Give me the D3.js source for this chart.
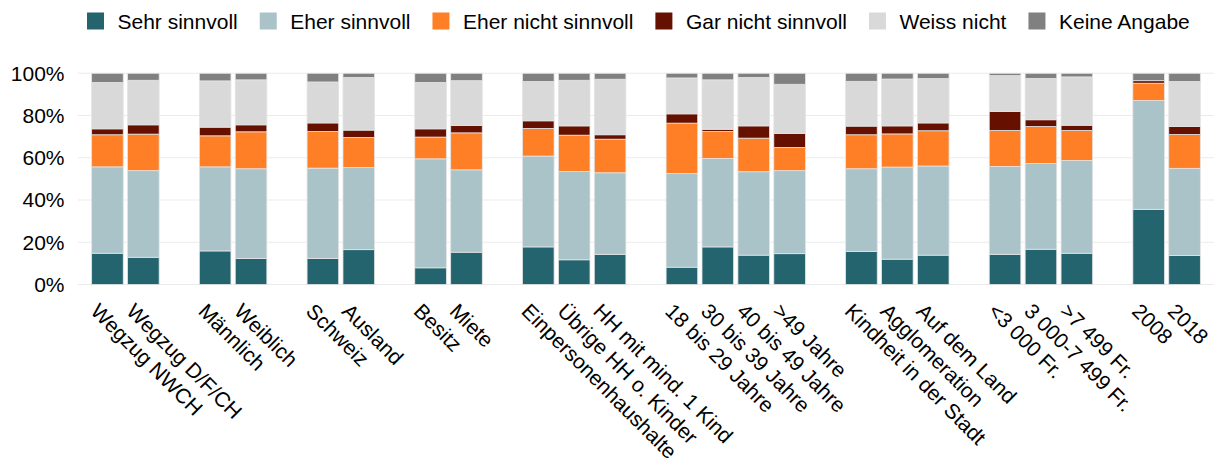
<!DOCTYPE html>
<html>
<head>
<meta charset="utf-8">
<script src="https://cdn.jsdelivr.net/npm/d3@7"></script>
<style>
  html, body { margin: 0; padding: 0; background: #ffffff; }
  svg { display: block; font-family: "Liberation Sans", Arial, sans-serif; }
</style>
</head>
<body>
<svg id="chart" width="1219" height="464"></svg>
<script>
// Categories, in drawing order, and how many belong to each group
const categories = [
  "Wegzug NWCH", "Wegzug D/F/CH",
  "Männlich", "Weiblich",
  "Schweiz", "Ausland",
  "Besitz", "Miete",
  "Einpersonenhaushalte", "Übrige HH o. Kinder", "HH mit mind. 1 Kind",
  "18 bis 29 Jahre", "30 bis 39 Jahre", "40 bis 49 Jahre", ">49 Jahre",
  "Kindheit in der Stadt", "Agglomeration", "Auf dem Land",
  "<3 000 Fr.", "3 000-7 499 Fr.", ">7 499 Fr.",
  "2008", "2018"
];
const groupSizes = [2, 2, 2, 2, 3, 4, 3, 3, 2];

// Answer shares in percent, one value per category
const sehrSinnvoll      = [14.8, 12.9, 15.9, 12.3, 12.3, 16.5, 7.9, 15.3, 17.8, 11.7, 14.3, 8.2, 17.8, 13.9, 14.6, 15.7, 12.0, 13.9, 14.3, 16.7, 14.8, 35.6, 13.7];
const eherSinnvoll      = [40.9, 41.0, 39.8, 42.5, 42.8, 38.9, 51.6, 39.0, 43.0, 41.8, 38.6, 44.4, 41.9, 39.5, 39.3, 39.1, 43.6, 42.2, 41.6, 40.6, 43.9, 51.5, 41.3];
const eherNichtSinnvoll = [15.2, 17.3, 14.7, 17.5, 17.3, 14.2, 10.3, 17.5, 13.1, 17.2, 15.9, 23.8, 12.7, 15.9, 11.0, 16.1, 15.7, 16.7, 17.0, 17.5, 14.2, 8.2, 16.0];
const garNichtSinnvoll  = [2.8, 4.4, 4.1, 3.3, 4.1, 3.5, 3.9, 3.5, 3.6, 4.4, 2.1, 4.4, 1.1, 5.8, 6.6, 4.1, 3.8, 3.7, 9.0, 3.2, 2.5, 1.2, 3.8];
const weissNicht        = [22.0, 21.1, 21.9, 21.3, 19.4, 24.9, 22.0, 21.2, 18.6, 21.6, 26.3, 17.0, 23.4, 22.9, 23.3, 21.2, 22.2, 21.0, 17.0, 19.6, 22.9, 0.0, 21.3];
const keineAngabe       = [4.3, 3.3, 3.6, 3.1, 4.1, 2.0, 4.3, 3.5, 3.9, 3.3, 2.8, 2.2, 3.1, 2.0, 5.2, 3.8, 2.7, 2.5, 1.1, 2.4, 1.7, 3.5, 3.9];

const seriesNames = ["Sehr sinnvoll", "Eher sinnvoll", "Eher nicht sinnvoll", "Gar nicht sinnvoll", "Weiss nicht", "Keine Angabe"];
const seriesColors = ["#23646f", "#aac3c9", "#ff7f27", "#661100", "#d9d9d9", "#808080"];
const yTicks = [0, 20, 40, 60, 80, 100];

const seriesValues = [sehrSinnvoll, eherSinnvoll, eherNichtSinnvoll, garNichtSinnvoll, weissNicht, keineAngabe];
const rows = categories.map((c, i) => {
  const r = { category: c };
  seriesNames.forEach((s, j) => { r[s] = seriesValues[j][i]; });
  return r;
});

// Band domain: an empty slot between consecutive groups
const domain = [];
let idx = 0;
groupSizes.forEach((n, g) => {
  if (g > 0) domain.push("__gap" + g);
  for (let k = 0; k < n; k++) domain.push(categories[idx++]);
});

const svg = d3.select("#chart");
const plot = { left: 78, right: 1214, top: 73.3, bottom: 284.5 };

const x = d3.scaleBand()
  .domain(domain)
  .range([plot.left, plot.right])
  .paddingInner(0.12)
  .paddingOuter(0.38);

const y = d3.scaleLinear()
  .domain([0, 100])
  .range([plot.bottom, plot.top]);

const color = d3.scaleOrdinal().domain(seriesNames).range(seriesColors);

// Gridlines
svg.append("g")
  .selectAll("line")
  .data(yTicks)
  .join("line")
  .attr("x1", plot.left)
  .attr("x2", plot.right)
  .attr("y1", d => y(d))
  .attr("y2", d => y(d))
  .attr("stroke", "#ebebeb")
  .attr("stroke-width", 1.1);

// Stacked bars
const stacked = d3.stack().keys(seriesNames)(rows);
svg.append("g")
  .selectAll("g")
  .data(stacked)
  .join("g")
  .attr("fill", d => color(d.key))
  .selectAll("rect")
  .data(d => d)
  .join("rect")
  .attr("x", d => x(d.data.category))
  .attr("width", x.bandwidth())
  .attr("y", d => y(d[1]))
  .attr("height", d => Math.max(0, y(d[0]) - y(d[1])))
  .attr("stroke", "#e4e4e4")
  .attr("stroke-width", 0.8);

// Y axis
const yAxis = svg.append("g")
  .attr("transform", `translate(${64.5 + 0},0)`)
  .call(d3.axisLeft(y).tickValues(yTicks).tickFormat(d => d + "%").tickSize(0).tickPadding(0));
yAxis.select(".domain").remove();
yAxis.selectAll("text")
  .attr("x", 0)
  .attr("dy", "0.33em")
  .attr("fill", "#000")
  .style("font-size", "21px")
  .style("font-family", "'Liberation Sans', Arial, sans-serif");

// X axis with rotated labels
const xAxis = svg.append("g")
  .attr("transform", `translate(0,${plot.bottom})`)
  .call(d3.axisBottom(x).tickValues(categories).tickSize(0));
xAxis.select(".domain").remove();
xAxis.selectAll("text")
  .attr("x", 0)
  .attr("y", 0)
  .attr("dy", 0)
  .attr("text-anchor", "start")
  .attr("transform", "translate(-18,28) rotate(45)")
  .attr("fill", "#000")
  .style("font-size", "21px")
  .style("font-family", "'Liberation Sans', Arial, sans-serif");

// Legend
const legend = svg.append("g").attr("transform", "translate(87,0)");
let lx = 0;
seriesNames.forEach((name, i) => {
  const item = legend.append("g").attr("transform", `translate(${lx},0)`);
  item.append("rect")
    .attr("x", 0).attr("y", 12.5)
    .attr("width", 17).attr("height", 17)
    .attr("fill", seriesColors[i]);
  const t = item.append("text")
    .attr("x", 30.5).attr("y", 28.5)
    .attr("fill", "#000")
    .style("font-size", "21px")
    .text(name);
  lx += 30.5 + t.node().getComputedTextLength() + 22;
});
</script>
</body>
</html>
